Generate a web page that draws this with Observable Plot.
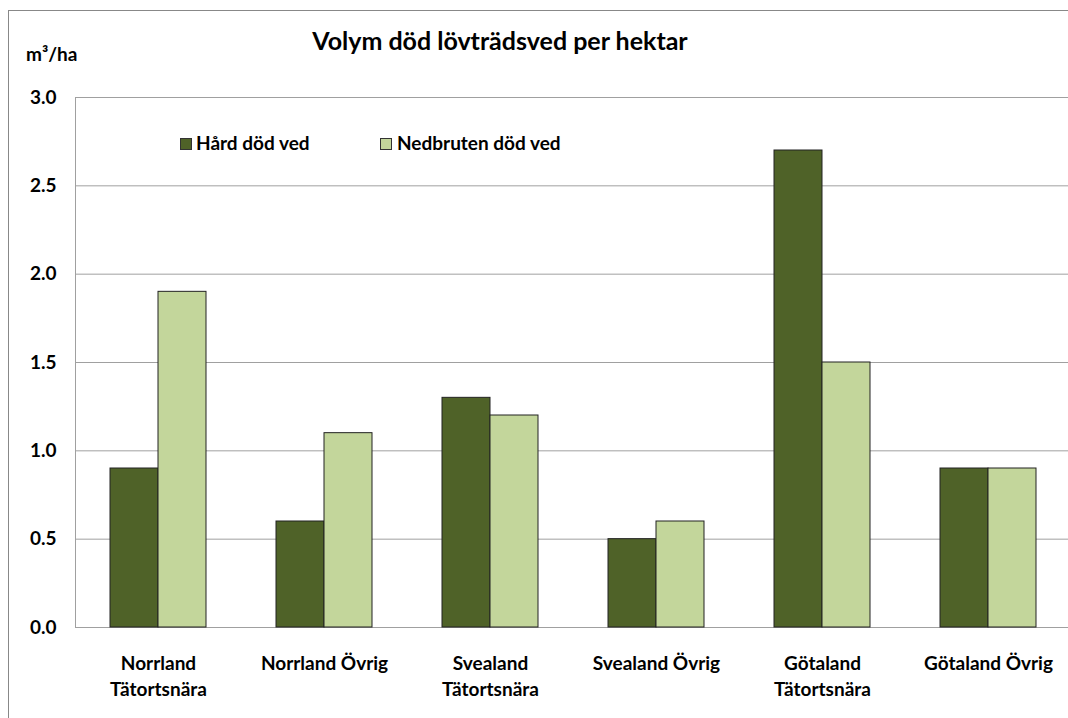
<!DOCTYPE html>
<html>
<head>
<meta charset="utf-8">
<script src="https://cdn.jsdelivr.net/npm/d3@7"></script>
<script src="https://cdn.jsdelivr.net/npm/@observablehq/plot@0.6"></script>
<style>
  html, body { margin: 0; padding: 0; background: #fff; overflow: hidden; }
  ::-webkit-scrollbar { display: none; width: 0; height: 0; }
  #wrap { position: relative; width: 1068px; height: 718px; overflow: hidden; font-family: Lato, "Open Sans", sans-serif; font-weight: 700; color: #000; }
  #frame { position: absolute; left: 8px; top: 10px; width: 1200px; height: 900px; border-left: 1px solid #888; border-top: 1px solid #888; box-sizing: border-box; }
  #chart { position: absolute; left: 0; top: 0; width: 1080px; height: 718px; }
  #chart svg { max-width: none !important; }
  .txt { position: absolute; white-space: nowrap; line-height: 1; }
  #title { left: 0; width: 1000px; text-align: center; top: 28px; font-size: 25px; }
  #unit { left: 26px; top: 44px; font-size: 19px; }
  .sw { position: absolute; width: 10px; height: 10px; border: 1px solid #333; box-sizing: content-box; }
  .lg { font-size: 19px; top: 133px; }
</style>
</head>
<body>
<div id="wrap">
  <div id="frame"></div>
  <div id="chart"></div>
  <div class="txt" id="title">Volym död lövträdsved per hektar</div>
  <div class="txt" id="unit">m³/ha</div>
  <div id="legend"></div>
</div>
<script>
const categories = ["Norrland Tätortsnära", "Norrland Övrig", "Svealand Tätortsnära", "Svealand Övrig", "Götaland Tätortsnära", "Götaland Övrig"];
const tickLabels = ["Norrland\nTätortsnära", "Norrland Övrig", "Svealand\nTätortsnära", "Svealand Övrig", "Götaland\nTätortsnära", "Götaland Övrig"];
const seriesNames = ["Hård död ved", "Nedbruten död ved"];
const hard = [0.9, 0.6, 1.3, 0.5, 2.7, 0.9];
const nedbruten = [1.9, 1.1, 1.2, 0.6, 1.5, 0.9];
const yTicks = [0, 0.5, 1.0, 1.5, 2.0, 2.5, 3.0];
const colors = ["#4f6228", "#c3d69b"];

const hardData = categories.map((c, i) => ({cat: c, value: hard[i]}));
const nedData = categories.map((c, i) => ({cat: c, value: nedbruten[i]}));
const labelOf = new Map(categories.map((c, i) => [c, tickLabels[i]]));

const chart = Plot.plot({
  width: 1080,
  height: 718,
  marginLeft: 75,
  marginRight: 9,
  marginTop: 97,
  marginBottom: 91,
  style: {fontFamily: "Lato, 'Open Sans', sans-serif", fontWeight: "700", fontSize: "19px", color: "#000", background: "transparent", overflow: "visible", maxWidth: "none"},
  x: {domain: categories, paddingInner: 0.711, paddingOuter: 0.355},
  y: {domain: [0, 3], ticks: yTicks},
  marks: [
    Plot.ruleY(yTicks, {stroke: "#a0a0a0", strokeWidth: 1}),
    Plot.frame({stroke: "#a0a0a0"}),
    Plot.barY(hardData, {x: "cat", y: "value", fill: colors[0], stroke: "#222", strokeWidth: 1, dx: -24}),
    Plot.barY(nedData, {x: "cat", y: "value", fill: colors[1], stroke: "#222", strokeWidth: 1, dx: 24}),
    Plot.axisY(yTicks, {tickSize: 0, tickPadding: 19, tickFormat: d3.format(".1f"), fontSize: 19, label: null}),
    Plot.axisX({tickSize: 0, tickPadding: 23.5, tickFormat: d => labelOf.get(d), fontSize: 19, lineHeight: 1.38, label: null})
  ]
});
document.getElementById("chart").appendChild(chart);

const legend = document.getElementById("legend");
const legendPos = [[180, 196], [380, 397]];
seriesNames.forEach((name, i) => {
  const sw = document.createElement("div");
  sw.className = "sw";
  sw.style.left = legendPos[i][0] + "px";
  sw.style.top = "138px";
  sw.style.background = colors[i];
  legend.appendChild(sw);
  const t = document.createElement("div");
  t.className = "txt lg";
  t.style.left = legendPos[i][1] + "px";
  t.textContent = name;
  legend.appendChild(t);
});
</script>
</body>
</html>
